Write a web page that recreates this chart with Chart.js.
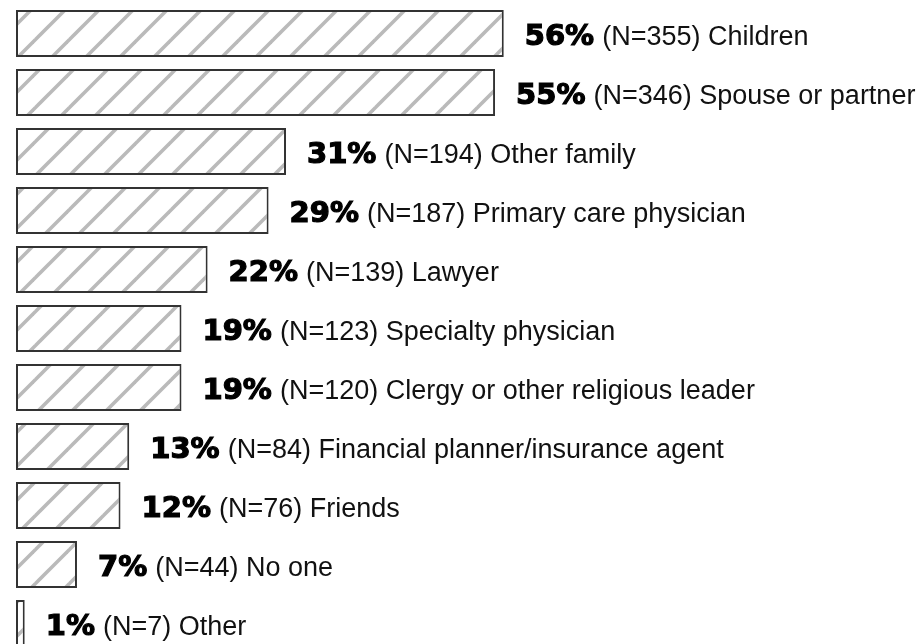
<!DOCTYPE html>
<html>
<head>
<meta charset="utf-8">
<script src="https://cdn.jsdelivr.net/npm/chart.js@4/dist/chart.umd.min.js"></script>
<style>
    html, body { margin: 0; padding: 0; background: #ffffff; overflow: hidden; }
    #wrap { width: 922px; height: 644px; overflow: hidden; }
    canvas { display: block; }
</style>
</head>
<body>
<div id="wrap"><canvas id="chart" width="922" height="660"></canvas></div>
<script>
// Datos
const categorias = ['Children', 'Spouse or partner', 'Other family', 'Primary care physician', 'Lawyer',
    'Specialty physician', 'Clergy or other religious leader', 'Financial planner/insurance agent',
    'Friends', 'No one', 'Other'];
const porcentajes = [56, 55, 31, 29, 22, 19, 19, 13, 12, 7, 1];
const conteos = [355, 346, 194, 187, 139, 123, 120, 84, 76, 44, 7];

// Patron de rayas diagonales
function crearPatron(ctx) {
    const tile = document.createElement('canvas');
    tile.width = 34;
    tile.height = 34;
    const t = tile.getContext('2d');
    t.fillStyle = '#ffffff';
    t.fillRect(0, 0, 34, 34);
    t.strokeStyle = '#bababa';
    t.lineWidth = 3.6;
    t.lineCap = 'butt';
    [-27, 7, 41, 75].forEach(c => {
        t.beginPath();
        t.moveTo(c - 40, 40);
        t.lineTo(c + 40, -40);
        t.stroke();
    });
    return ctx.createPattern(tile, 'repeat');
}

// Etiquetas al final de cada barra
const etiquetas = {
    id: 'etiquetas',
    afterDatasetsDraw(chart) {
        const ctx = chart.ctx;
        const meta = chart.getDatasetMeta(0);
        ctx.save();
        ctx.textBaseline = 'alphabetic';
        ctx.textAlign = 'left';
        meta.data.forEach((bar, i) => {
            const x = bar.x + 21;
            const y = bar.y + 11;
            const pct = porcentajes[i] + '%';
            ctx.font = 'bold 29px "DejaVu Sans"';
            ctx.fillStyle = '#000000';
            ctx.strokeStyle = '#000000';
            ctx.lineWidth = 1.2;
            ctx.fillText(pct, x, y);
            ctx.strokeText(pct, x, y);
            const w = ctx.measureText(pct).width;
            ctx.font = '27px "Liberation Sans"';
            ctx.fillStyle = '#111111';
            ctx.fillText('(N=' + conteos[i] + ') ' + categorias[i], x + w + 8, y);
        });
        ctx.restore();
    }
};

function init() {
    const canvas = document.getElementById('chart');
    const ctx = canvas.getContext('2d');
    new Chart(ctx, {
        type: 'bar',
        data: {
            labels: categorias,
            datasets: [{
                data: porcentajes,
                backgroundColor: crearPatron(ctx),
                borderColor: '#333333',
                borderWidth: 2,
                borderSkipped: false,
                barPercentage: 0.8,
                categoryPercentage: 1.0
            }]
        },
        options: {
            indexAxis: 'y',
            responsive: false,
            animation: false,
            devicePixelRatio: 1,
            layout: { padding: { left: 16, right: 35, top: 4, bottom: 7 } },
            scales: {
                x: { display: false, min: 0, max: 100 },
                y: { display: false }
            },
            plugins: {
                legend: { display: false },
                tooltip: { enabled: false }
            }
        },
        plugins: [etiquetas]
    });
}

document.addEventListener('DOMContentLoaded', init);
</script>
</body>
</html>
